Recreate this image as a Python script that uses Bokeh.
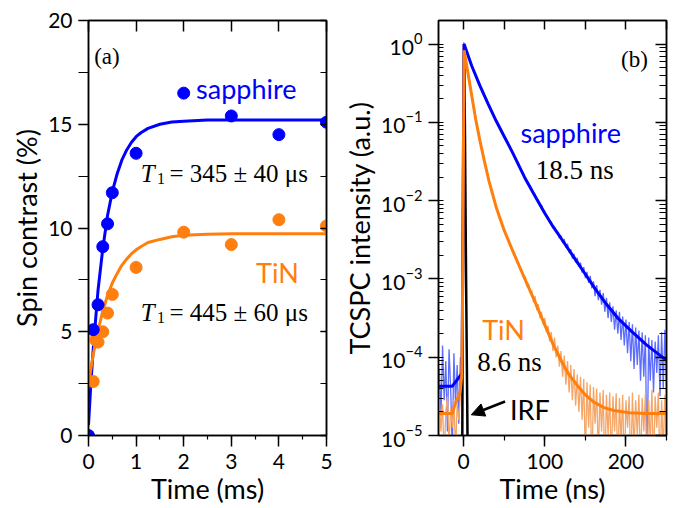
from bokeh.plotting import figure
from bokeh.layouts import row
from bokeh.models import (LinearAxis, LogAxis, SingleIntervalTicker, LogTicker,
                          CustomJSTickFormatter, Label, Arrow, NormalHead)
from bokeh.embed import file_html
from bokeh.resources import INLINE

SANS = "Lato"
SERIF = "Liberation Serif"
BLUE = "#0000ff"
ORANGE = "#ff7f0e"
LIGHT_BLUE = "#5c6cff"
LIGHT_ORANGE = "#f5a565"

# ---------------- panel (a): spin contrast vs time ----------------
sapphire_time_ms = [0, 0.1, 0.2, 0.3, 0.4, 0.5, 1, 2, 3, 4, 5]
sapphire_contrast = [0, 5.1, 6.3, 9.1, 10.2, 11.7, 13.6, 16.5, 15.4, 14.5, 15.1]
tin_time_ms = [0.1, 0.15, 0.2, 0.3, 0.4, 0.5, 1, 2, 3, 4, 5]
tin_contrast = [2.6, 4.6, 4.5, 5.0, 5.9, 6.8, 8.1, 9.8, 9.2, 10.4, 10.1]

fit_time_ms = [0, 0.05, 0.1, 0.2, 0.3, 0.4, 0.5, 0.6, 0.7, 0.8, 0.9, 1.0, 1.1, 1.25, 1.5, 1.75, 2, 2.5, 3, 4, 5]
sapphire_fit = [0.5, 2.5, 4.2, 7.0, 9.0, 10.6, 11.75, 12.6, 13.27, 13.75, 14.12, 14.4, 14.59, 14.8, 15.0, 15.11, 15.15, 15.2, 15.2, 15.2, 15.2]
tin_fit = [2.4, 3.2, 3.9, 5.05, 6.0, 6.75, 7.35, 7.8, 8.2, 8.5, 8.75, 8.95, 9.1, 9.3, 9.45, 9.58, 9.65, 9.7, 9.72, 9.72, 9.72]

# ---------------- panel (b): TCSPC decay (log10 of intensity) ----------------
time_ns = list(range(-30, 251, 2))
sapphire_tcspc_log10 = [
    -4.15, -4.75, -3.85, -4.55, -4.05, -4.95, -3.9, -4.4, -5.2, -3.95, -4.6, -4.1, -4.85, -4.0, -4.3,
    0.02,
    -0.04, -0.10, -0.16, -0.22, -0.28, -0.33, -0.38, -0.43, -0.48, -0.53,
    -0.58, -0.62, -0.67, -0.71, -0.76, -0.80, -0.85, -0.89, -0.94, -0.98,
    -1.02, -1.06, -1.10, -1.14, -1.18, -1.22, -1.26, -1.30, -1.34, -1.38,
    -1.42, -1.47, -1.50, -1.55, -1.59, -1.64, -1.66, -1.73, -1.75, -1.80,
    -1.83, -1.86, -1.90, -1.92, -1.99, -1.99, -2.05, -2.06, -2.12, -2.14,
    -2.20, -2.21, -2.27, -2.27, -2.35, -2.34, -2.40, -2.40, -2.48, -2.45,
    -2.54, -2.49, -2.60, -2.55, -2.66, -2.62, -2.74, -2.68, -2.79, -2.73,
    -2.84, -2.79, -2.92, -2.85, -2.99, -2.91, -3.05, -2.96, -3.12, -3.03,
    -3.22, -3.08, -3.27, -3.14, -3.33, -3.18, -3.42, -3.24, -3.50, -3.30,
    -3.55, -3.35, -3.65, -3.40, -3.70, -3.42, -3.78, -3.48, -3.85, -3.52,
    -3.95, -3.55, -4.05, -3.58, -4.15, -3.62, -4.10, -3.66, -4.30, -3.68,
    -4.25, -3.72, -5.5, -3.75, -4.30, -3.78, -4.45, -3.80, -4.20, -3.72,
    -4.50, -3.68, -4.40, -3.65, -4.35,
]
tin_tcspc_log10 = [
    -4.55, -4.95, -4.6, -5.3, -4.7, -4.5, -5.1, -4.65, -4.9, -4.55, -5.2, -4.6, -4.8, -4.5, -4.4,
    -0.07,
    -0.18, -0.29, -0.41, -0.53, -0.66, -0.78, -0.91, -1.02, -1.13, -1.23,
    -1.33, -1.42, -1.52, -1.61, -1.70, -1.78, -1.86, -1.93, -2.01, -2.08,
    -2.15, -2.20, -2.27, -2.32, -2.38, -2.43, -2.48, -2.53, -2.59, -2.62,
    -2.70, -2.71, -2.80, -2.80, -2.90, -2.90, -3.00, -2.97, -3.10, -3.06,
    -3.18, -3.15, -3.30, -3.22, -3.40, -3.32, -3.50, -3.42, -3.58, -3.50,
    -3.68, -3.60, -3.80, -3.68, -3.92, -3.75, -4.00, -3.85, -4.12, -3.92,
    -4.25, -3.98, -4.35, -4.05, -4.45, -4.10, -4.55, -4.15, -4.62, -4.22,
    -4.70, -4.25, -4.80, -4.28, -5.3, -4.32, -4.90, -4.35, -5.5, -4.38,
    -4.85, -4.40, -5.3, -4.45, -4.95, -4.42, -5.5, -4.48, -5.0, -4.45,
    -5.4, -4.50, -4.95, -4.46, -5.5, -4.52, -5.1, -4.48, -5.5, -4.55,
    -4.9, -4.50, -5.5, -4.45, -5.2, -4.55, -5.0, -4.48, -5.5, -4.52,
    -4.95, -4.46, -5.5, -4.55, -5.1, -4.42, -5.5, -4.50, -4.9, -4.45,
    -5.5, -4.55, -5.2, -4.48, -5.0,
]
sapphire_fit_t = [-31, -14, -4.4, -2.0, 0.5, 10, 20, 30, 40, 50, 60, 75, 90, 100,
                  110, 120, 133, 150, 163, 175, 190, 208, 225, 240, 250]
sapphire_fit_log10 = [-4.37, -4.37, -4.24, -4.2, 0.0, -0.28, -0.53, -0.76, -0.98, -1.18, -1.38, -1.70, -1.98, -2.16,
                      -2.33, -2.48, -2.68, -2.94, -3.14, -3.31, -3.50, -3.68, -3.84, -3.96, -4.04]
tin_fit_t = [-31, -14, -10.5, -4.4, -2.4, -1.5, 0.5, 5, 10, 15, 20, 25, 31, 40, 50, 60, 70, 78, 87, 96,
             110, 120, 129, 140, 149, 160, 172, 185, 204, 225, 250]
tin_fit_log10 = [-4.72, -4.72, -4.6, -4.45, -4.24, -3.5, -0.08, -0.35, -0.66, -0.97, -1.23, -1.47, -1.74,
                 -2.08, -2.38, -2.63, -2.87, -3.06, -3.27, -3.49, -3.83, -4.04, -4.21, -4.36, -4.47, -4.57,
                 -4.64, -4.68, -4.71, -4.72, -4.72]
irf_t = [-1.8, -1.0, 0.5, 1.5, 3.0, 4.3, 5.2]
irf_log10 = [-5.5, -3.0, 0.0, -1.0, -3.0, -4.5, -5.5]

assert len(sapphire_tcspc_log10) == len(time_ns) == len(tin_tcspc_log10)


def pw(vals):
    return [10.0 ** v for v in vals]


def add_axis(p, cls, ticker, side, label=None, tin=0, tout=0, min_in=0, min_out=0,
             labels=True, standoff=5, label_standoff=2):
    ax = cls(ticker=ticker,
             axis_line_color="black", axis_line_width=1.5,
             major_tick_line_color="black", major_tick_line_width=1.5,
             minor_tick_line_color="black", minor_tick_line_width=1.2,
             major_tick_in=tin, major_tick_out=tout,
             minor_tick_in=min_in, minor_tick_out=min_out)
    if labels:
        ax.major_label_text_font = SANS
        ax.major_label_text_font_size = "21px"
        ax.major_label_text_color = "black"
        ax.major_label_standoff = standoff
    else:
        ax.formatter = CustomJSTickFormatter(code="return ''")
        ax.major_label_standoff = 0
    if label is not None:
        ax.axis_label = label
        ax.axis_label_text_font = SANS
        ax.axis_label_text_font_size = "27px"
        ax.axis_label_text_font_style = "normal"
        ax.axis_label_text_color = "black"
        ax.axis_label_standoff = label_standoff
    p.add_layout(ax, side)
    return ax


def txt(p, x, y, text, font=SANS, size="26px", color="black", style="normal"):
    p.add_layout(Label(x=x, y=y, text=text, text_font=font, text_font_size=size,
                       text_color=color, text_font_style=style,
                       text_baseline="alphabetic", text_align="left"))


def no_grid(p):
    p.xgrid.visible = False
    p.ygrid.visible = False


# ---------- figure (a) ----------
p1 = figure(width=340, height=508, x_range=(0, 5), y_range=(0, 20),
            x_axis_location=None, y_axis_location=None,
            output_backend="svg", toolbar_location=None,
            min_border_left=88, min_border_right=14, min_border_top=20, min_border_bottom=73)
p1.outline_line_color = "black"
p1.outline_line_width = 1.5
no_grid(p1)

add_axis(p1, LinearAxis, SingleIntervalTicker(interval=5, num_minor_ticks=2), "left",
         label="Spin contrast (%)", tout=10, min_out=10, standoff=6)
add_axis(p1, LinearAxis, SingleIntervalTicker(interval=1, num_minor_ticks=2), "below",
         label="Time (ms)", tout=11, min_out=4, standoff=7, label_standoff=0)
add_axis(p1, LinearAxis, SingleIntervalTicker(interval=1, num_minor_ticks=0), "above",
         tin=11, labels=False)
add_axis(p1, LinearAxis, SingleIntervalTicker(interval=5, num_minor_ticks=2), "right",
         tin=6, min_in=6, labels=False)

p1.line(fit_time_ms, sapphire_fit, line_color=BLUE, line_width=3)
p1.line(fit_time_ms, tin_fit, line_color=ORANGE, line_width=3)
p1.scatter(tin_time_ms, tin_contrast, size=12, fill_color=ORANGE, line_color=ORANGE)
p1.scatter(sapphire_time_ms, sapphire_contrast, size=12, fill_color=BLUE, line_color=BLUE)

txt(p1, 0.12, 18.25, "(a)", font=SERIF, size="23px")
txt(p1, 2.26, 16.7, "sapphire", color=BLUE, size="27px")
txt(p1, 3.52, 7.86, "TiN", color=ORANGE, size="27px")
txt(p1, 1.10, 12.64, "T", font=SERIF, size="25px", style="italic")
txt(p1, 1.44, 12.40, "1", font=SERIF, size="16px")
txt(p1, 1.70, 12.64, "= 345 ± 40 μs", font=SERIF, size="25px")
txt(p1, 1.10, 5.93, "T", font=SERIF, size="25px", style="italic")
txt(p1, 1.44, 5.69, "1", font=SERIF, size="16px")
txt(p1, 1.70, 5.93, "= 445 ± 60 μs", font=SERIF, size="25px")

# ---------- figure (b) ----------
p2 = figure(width=334, height=508, x_range=(-31, 250), y_range=(1e-5, 2),
            y_axis_type="log", x_axis_location=None, y_axis_location=None,
            output_backend="svg", toolbar_location=None,
            min_border_left=87, min_border_right=8, min_border_top=20, min_border_bottom=73)
p2.outline_line_color = "black"
p2.outline_line_width = 1.5
no_grid(p2)

add_axis(p2, LogAxis, LogTicker(num_minor_ticks=10), "left",
         label="TCSPC intensity (a.u.)", tout=10, min_in=5, standoff=6)
add_axis(p2, LinearAxis, SingleIntervalTicker(interval=100, num_minor_ticks=2), "below",
         label="Time (ns)", tout=11, min_out=5, standoff=7, label_standoff=0)
add_axis(p2, LinearAxis, SingleIntervalTicker(interval=50, num_minor_ticks=0), "above",
         tin=9, labels=False)
add_axis(p2, LogAxis, LogTicker(num_minor_ticks=10), "right",
         tin=11, min_in=7, labels=False)

p2.line(time_ns, pw(sapphire_tcspc_log10), line_color=LIGHT_BLUE, line_width=1.3)
p2.line(time_ns, pw(tin_tcspc_log10), line_color=LIGHT_ORANGE, line_width=1.3)
p2.line(irf_t, pw(irf_log10), line_color="black", line_width=2.5)
p2.line(sapphire_fit_t, pw(sapphire_fit_log10), line_color=BLUE, line_width=3)
p2.line(tin_fit_t, pw(tin_fit_log10), line_color=ORANGE, line_width=3)

txt(p2, 194, 0.637, "(b)", font=SERIF, size="23px")
txt(p2, 70, 0.075, "sapphire", color=BLUE, size="27px")
txt(p2, 89, 0.0243, "18.5 ns", font=SERIF, size="27px")
txt(p2, 22.8, 2.25e-4, "TiN", color=ORANGE, size="27px")
txt(p2, 16.9, 8.75e-5, "8.6 ns", font=SERIF, size="27px")
txt(p2, 57, 2.14e-5, "IRF", size="27px")
p2.add_layout(Arrow(start=None, end=NormalHead(size=13, fill_color="black", line_color="black"),
                    x_start=51, y_start=2.72e-5, x_end=9.4, y_end=1.84e-5,
                    line_color="black", line_width=2.5))

layout = row(p1, p2)
open("out.html", "w").write(file_html(layout, INLINE))
